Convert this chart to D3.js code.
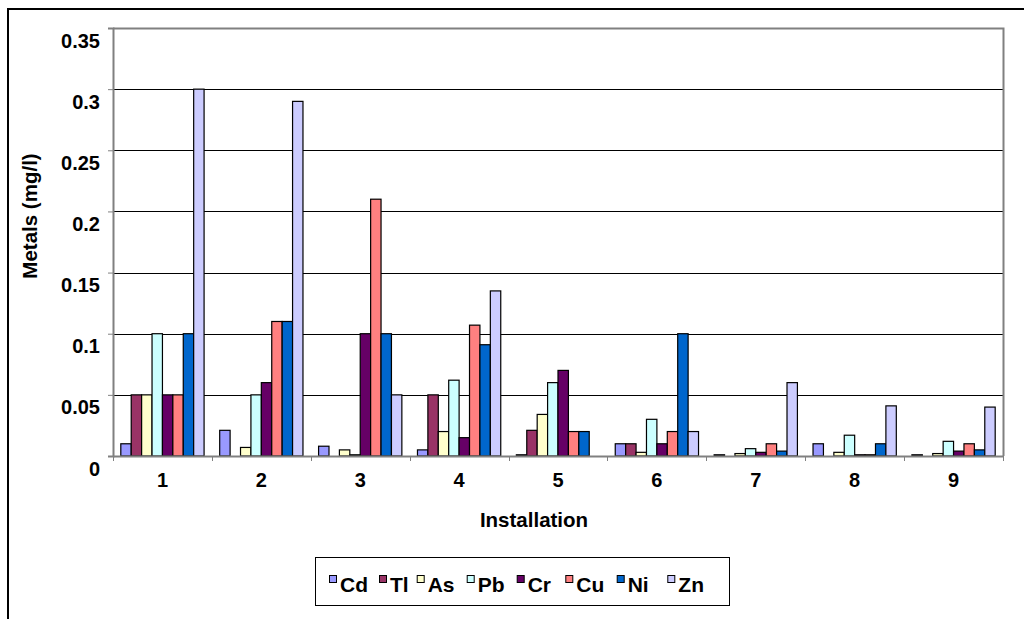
<!DOCTYPE html>
<html>
<head>
<meta charset="utf-8">
<script src="https://cdn.jsdelivr.net/npm/d3@7"></script>
<style>
  html, body { margin: 0; padding: 0; background: #fff; }
  svg { display: block; }
  text { font-family: "Liberation Sans", Arial, sans-serif; font-weight: bold; fill: #000; }
</style>
</head>
<body>
<svg id="chart" width="1024" height="619"></svg>
<script>
// ---- data ----
const categories = ["1", "2", "3", "4", "5", "6", "7", "8", "9"];
const seriesNames = ["Cd", "Tl", "As", "Pb", "Cr", "Cu", "Ni", "Zn"];
const Cd = [0.01, 0.021, 0.008, 0.005, 0.001, 0.01, 0.001, 0.01, 0.001];
const Tl = [0.05, 0, 0, 0.05, 0.021, 0.01, 0, 0, 0];
const As = [0.05, 0.007, 0.005, 0.02, 0.034, 0.003, 0.002, 0.003, 0.002];
const Pb = [0.1, 0.05, 0.001, 0.062, 0.06, 0.03, 0.006, 0.017, 0.012];
const Cr = [0.05, 0.06, 0.1, 0.015, 0.07, 0.01, 0.003, 0.001, 0.004];
const Cu = [0.05, 0.11, 0.21, 0.107, 0.02, 0.02, 0.01, 0.001, 0.01];
const Ni = [0.1, 0.11, 0.1, 0.091, 0.02, 0.1, 0.004, 0.01, 0.005];
const Zn = [0.3, 0.29, 0.05, 0.135, 0, 0.02, 0.06, 0.041, 0.04];
const yTicks = [0, 0.05, 0.1, 0.15, 0.2, 0.25, 0.3, 0.35];
const yTickLabels = ["0", "0.05", "0.1", "0.15", "0.2", "0.25", "0.3", "0.35"];
const colors = ["#9999FF", "#993366", "#FFFFCC", "#CCFFFF", "#660066", "#FF8080", "#0066CC", "#CCCCFF"];

const seriesValues = [Cd, Tl, As, Pb, Cr, Cu, Ni, Zn];

// ---- layout ----
const svg = d3.select("#chart");
const plot = { left: 113, right: 1003, top: 28, bottom: 456 };
const fontSize = 20;

// outer chart border (extends past right/bottom edges)
svg.append("rect")
  .attr("x", 8).attr("y", 9).attr("width", 1040).attr("height", 640)
  .attr("fill", "#fff").attr("stroke", "#000").attr("stroke-width", 2);

const x0 = d3.scaleBand().domain(categories).range([plot.left, plot.right]).paddingInner(0).paddingOuter(0);
// Excel gap width 150%: 8 bars + 1.5 bar widths gap per category
const barW = x0.bandwidth() / 9.5;
const x1 = d3.scaleBand().domain(seriesNames)
  .range([barW * 0.75, barW * 0.75 + barW * 8]).padding(0);
const y = d3.scaleLinear().domain([0, 0.35]).range([plot.bottom, plot.top]);

// gridlines
svg.append("g").selectAll("line")
  .data(yTicks.filter(t => t > 0 && t < 0.35))
  .join("line")
  .attr("x1", plot.left).attr("x2", plot.right)
  .attr("y1", d => Math.round(y(d)) + 0.5).attr("y2", d => Math.round(y(d)) + 0.5)
  .attr("stroke", "#000").attr("stroke-width", 1);

// plot area border top/right (gray)
svg.append("path")
  .attr("d", `M${plot.left},${Math.round(y(0.35)) + 0.5}H${plot.right + 0.5}V${plot.bottom}`)
  .attr("fill", "none").attr("stroke", "#808080").attr("stroke-width", 2);

// bars
const groups = svg.append("g").selectAll("g")
  .data(categories)
  .join("g")
  .attr("transform", d => `translate(${x0(d)},0)`);

groups.selectAll("rect")
  .data((d, i) => seriesNames.map((s, j) => ({ s, v: seriesValues[j][i], c: colors[j] })))
  .join("rect")
  .attr("x", d => x1(d.s))
  .attr("width", x1.bandwidth())
  .attr("y", d => y(d.v))
  .attr("height", d => y(0) - y(d.v))
  .attr("fill", d => d.c)
  .attr("stroke", "#000").attr("stroke-width", 1.2);

// y axis
const yAxis = d3.axisLeft(y).tickValues(yTicks)
  .tickFormat((d, i) => yTickLabels[i]).tickSize(5).tickPadding(8);
const gy = svg.append("g").attr("transform", `translate(${plot.left},0)`).call(yAxis);
gy.select(".domain").attr("stroke", "#808080").attr("stroke-width", 2);
gy.selectAll(".tick line").attr("stroke", "#808080").attr("stroke-width", 1);
gy.selectAll(".tick text").attr("font-size", fontSize).attr("dy", "0.95em")
  .attr("font-family", "'Liberation Sans', Arial, sans-serif").attr("font-weight", "bold").attr("fill", "#000");

// x axis
const xAxis = d3.axisBottom(x0).tickSize(0).tickPadding(0);
const gx = svg.append("g").attr("transform", `translate(0,${plot.bottom})`).call(xAxis);
gx.select(".domain").attr("stroke", "#808080").attr("stroke-width", 2);
gx.selectAll(".tick text").attr("font-size", fontSize).attr("y", 31).attr("dy", 0)
  .attr("font-family", "'Liberation Sans', Arial, sans-serif").attr("font-weight", "bold").attr("fill", "#000");
// category separator ticks
const sepX = categories.map(c => x0(c)).concat([plot.right]);
svg.append("g").selectAll("line").data(sepX).join("line")
  .attr("x1", d => Math.round(d) + 0.5).attr("x2", d => Math.round(d) + 0.5)
  .attr("y1", plot.bottom).attr("y2", plot.bottom + 5)
  .attr("stroke", "#808080").attr("stroke-width", 1);

// axis titles
svg.append("text").attr("x", 534).attr("y", 527)
  .attr("text-anchor", "middle").attr("font-size", 20.5).text("Installation");
svg.append("text").attr("transform", `translate(37,216) rotate(-90)`)
  .attr("text-anchor", "middle").attr("font-size", 20.5).text("Metals (mg/l)");

// legend
svg.append("rect").attr("x", 315.5).attr("y", 557.5).attr("width", 414).attr("height", 48)
  .attr("fill", "#fff").attr("stroke", "#000").attr("stroke-width", 1);
const legendX = [329, 379, 416.7, 466.7, 516.7, 565.3, 616.7, 667.3];
const lg = svg.append("g").selectAll("g").data(seriesNames).join("g")
  .attr("transform", (d, i) => `translate(${legendX[i]},0)`);
lg.append("rect").attr("x", 0.5).attr("y", 575.5).attr("width", 7).attr("height", 7)
  .attr("fill", (d, i) => colors[i]).attr("stroke", "#000").attr("stroke-width", 1);
lg.append("text").attr("x", 11).attr("y", 592).attr("font-size", 21).text(d => d);
</script>
</body>
</html>
